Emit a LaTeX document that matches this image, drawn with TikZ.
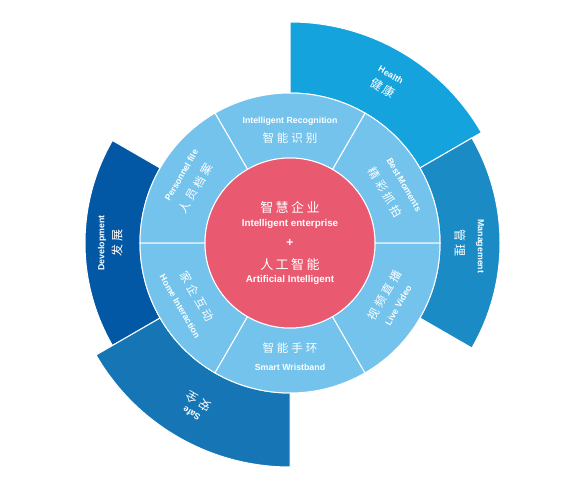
\documentclass[tikz,border=0pt]{standalone}
\usepackage{fontspec}
\setmainfont{Liberation Sans}
\newfontfamily\cjk{Noto Sans CJK SC}
\definecolor{healthc}{HTML}{15A3DD}
\definecolor{managec}{HTML}{1B8BC6}
\definecolor{develc}{HTML}{0358A5}
\definecolor{safec}{HTML}{1676B5}
\definecolor{ringc}{HTML}{73C3ED}
\definecolor{corec}{HTML}{E95A71}
\newcommand{\ringsector}[5]{\filldraw[fill=#1, draw=white, line width=1pt] (#2:#4) arc[start angle=#2, end angle=#3, radius=#4] -- (#3:#5) arc[start angle=#3, end angle=#2, radius=#5] -- cycle;}
\newcommand{\ks}{\kern3pt}
\newcommand{\kc}{\kern2.5pt}
\tikzset{
  en/.style={font=\bfseries\fontsize{8.8}{9}\selectfont, text=white, inner sep=0pt},
  zh/.style={font=\cjk\fontsize{11.5}{12}\selectfont, text=white, inner sep=0pt},
  cen/.style={font=\bfseries\fontsize{9.8}{10}\selectfont, text=white, inner sep=0pt},
  czh/.style={font=\cjk\fontsize{13}{13}\selectfont, text=white, inner sep=0pt},
}
\begin{document}
\begin{tikzpicture}[x=1pt,y=1pt]
\useasboundingbox (-290pt,-244pt) rectangle (290pt,243pt);
% outer sectors
\ringsector{healthc}{30}{90}{150pt}{221pt}
\ringsector{managec}{-30}{30}{150pt}{210pt}
\ringsector{develc}{150}{210}{150pt}{205pt}
\ringsector{safec}{210}{270}{150pt}{224pt}
% inner ring
\ringsector{ringc}{0}{60}{85pt}{150pt}
\ringsector{ringc}{60}{120}{85pt}{150pt}
\ringsector{ringc}{120}{180}{85pt}{150pt}
\ringsector{ringc}{180}{240}{85pt}{150pt}
\ringsector{ringc}{240}{300}{85pt}{150pt}
\ringsector{ringc}{300}{360}{85pt}{150pt}
% core
\node[circle, fill=corec, draw=white, line width=1pt, minimum size=170pt, inner sep=0pt] (core) at (0,0) {};
\node[czh] (c1) at (0pt,35pt) {智\kc 慧\kc 企\kc 业};
\node[cen] (c2) at (0pt,19pt) {Intelligent enterprise};
\node[cen, font=\bfseries\fontsize{12}{12}\selectfont] (c3) at (0pt,0pt) {+};
\node[czh] (c4) at (0pt,-22pt) {人\kc 工\kc 智\kc 能};
\node[cen] (c5) at (0pt,-37pt) {Artificial Intelligent};
% inner labels
\node[en] (r1e) at (90:122pt) {Intelligent Recognition};
\node[zh] (r1z) at (90:105pt) {智\ks 能\ks 识\ks 别};
\node[en, rotate=-60] (r2e) at (27:128pt) {Best Moments};
\node[zh, rotate=-60] (r2z) at (28:108pt) {精\ks 彩\ks 抓\ks 拍};
\node[en, rotate=60] (r3e) at (148:128pt) {Personnel file};
\node[zh, rotate=60] (r3z) at (150:109pt) {人\ks 员\ks 档\ks 案};
\node[en, rotate=-60] (r4e) at (210:127pt) {Home Interaction};
\node[zh, rotate=-60] (r4z) at (210:107pt) {家\ks 企\ks 互\ks 动};
\node[zh] (r5z) at (270:105pt) {智\ks 能\ks 手\ks 环};
\node[en] (r5e) at (270:124pt) {Smart Wristband};
\node[zh, rotate=60] (r6z) at (331:108pt) {视\ks 频\ks 直\ks 播};
\node[en, rotate=60] (r6e) at (330:125pt) {Live Video};
% outer labels
\node[en, rotate=-30] (o1e) at (59:196pt) {Health};
\node[zh, font=\cjk\fontsize{12}{12}\selectfont, rotate=-30] (o1z) at (59:181pt) {健\kc 康};
\node[en, rotate=-90] (o2e) at (-1:190pt) {Management};
\node[zh, font=\cjk\fontsize{12}{12}\selectfont, rotate=-90] (o2z) at (0:170pt) {管\kc 理};
\node[en, rotate=90] (o3e) at (180:188pt) {Development};
\node[zh, font=\cjk\fontsize{12}{12}\selectfont, rotate=90] (o3z) at (180:173pt) {发\kc 展};
\node[en, rotate=150] (o4e) at (240:197pt) {Safe};
\node[zh, font=\cjk\fontsize{12}{12}\selectfont, rotate=150] (o4z) at (240:183pt) {安\kc 全};
\end{tikzpicture}
\end{document}
